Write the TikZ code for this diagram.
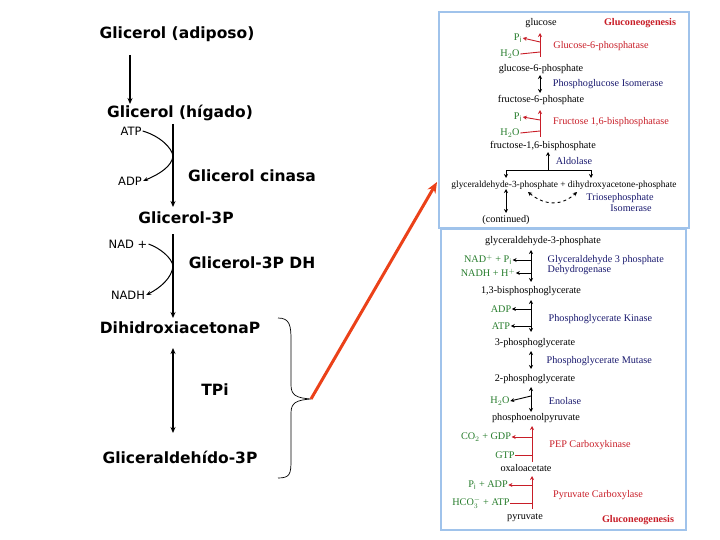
\documentclass[tikz,border=0pt]{standalone}
\usepackage{fontspec}
\setmainfont{DejaVu Sans}
\newfontfamily\serf{Liberation Serif}
\usetikzlibrary{arrows.meta,decorations.pathreplacing}
\definecolor{grn}{RGB}{40,125,45}
\definecolor{rd}{RGB}{200,30,40}
\definecolor{nv}{RGB}{25,25,110}
\definecolor{bx}{RGB}{160,195,235}
\definecolor{org}{RGB}{235,65,25}
\begin{document}
\begin{tikzpicture}[x=1pt,y=-1pt,
  big/.style={font=\bfseries\fontsize{15.5}{18}\selectfont,inner sep=1pt},
  sm/.style={font=\fontsize{11.5}{13}\selectfont,inner sep=1pt},
  rt/.style={font=\serf\fontsize{10.2}{11}\selectfont,inner sep=0.5pt},
  gr/.style={rt,text=grn},
  rr/.style={rt,text=rd},
  en/.style={rt,text=nv,align=left},
  la/.style={-{Stealth[length=6pt,width=5pt]},line width=1.1pt},
  lb/.style={{Stealth[length=6pt,width=5pt]}-{Stealth[length=6pt,width=5pt]},line width=1.1pt},
  ra/.style={-{Stealth[length=4pt,width=4pt]},line width=0.9pt},
  rb/.style={{Stealth[length=4pt,width=4pt]}-{Stealth[length=4pt,width=4pt]},line width=0.9pt}]
\useasboundingbox (0,0) rectangle (720,540);
% ---------- left ----------
\node[big] (a) at (177,34) {Glicerol (adiposo)};
\node[big] (b) at (180,113) {Glicerol (hígado)};
\node[big] (c) at (186,218) {Glicerol-3P};
\node[big] (d) at (180,328) {DihidroxiacetonaP};
\node[big] (e) at (180,457) {Gliceraldehído-3P};
\node[big] (tpi) at (215,390) {TPi};
\node[big] (gk) at (252,176) {Glicerol cinasa};
\node[big] (gdh) at (252,263) {Glicerol-3P DH};
\node[sm] (atp) at (131,131) {ATP};
\node[sm] (adp) at (130,181) {ADP};
\node[sm] (nad) at (128,244) {NAD +};
\node[sm] (nadh) at (128,295) {NADH};
\coordinate (a1) at (130,55); \coordinate (a2) at (130,104);
\draw[la] (a1) -- (a2);
\coordinate (b1) at (173,124); \coordinate (b2) at (173,207);
\draw[la] (b1) -- (b2);
\coordinate (c1) at (173,234); \coordinate (c2) at (173,318);
\draw[la] (c1) -- (c2);
\coordinate (d1) at (173,348); \coordinate (d2) at (173,433);
\draw[lb] (d1) -- (d2);
\draw[line width=1pt] (atp.east) .. controls (160,136) and (172,148) .. (173,156);
\draw[-{Stealth[length=5pt,width=4pt]},line width=1pt] (173,156) .. controls (172,166) and (160,174) .. (adp.east);
\draw[line width=1pt] (nad.east) .. controls (160,248) and (172,258) .. (173,266);
\draw[-{Stealth[length=5pt,width=4pt]},line width=1pt] (173,266) .. controls (172,278) and (160,288) .. (nadh.east);
% brace
\coordinate (br1) at (278,318); \coordinate (br2) at (278,478); \coordinate (tip) at (311,399);
\draw[line width=0.7pt] (br1) .. controls (290,318) and (291,326) .. (291,340) -- (291,385)
  .. controls (291,395) and (296,398) .. (tip) .. controls (296,400) and (291,403) .. (291,413)
  -- (291,460) .. controls (291,474) and (290,478) .. (br2);
\coordinate (oa) at (437,182);
\draw[org,line width=3pt,-{Stealth[length=11pt,width=9pt]}] (tip) -- (oa);
% ---------- right boxes ----------
\draw[bx,line width=2pt] (439,12) rectangle (689,228);
\draw[bx,line width=2pt] (441,229) rectangle (686,530);
% top panel
\node[rt] (g) at (541,23) {glucose};
\node[rt,text=rd,font=\serf\bfseries\fontsize{10.2}{11}\selectfont] (gn1) at (640,23) {Gluconeogenesis};
\node[gr] (pi1) at (518,38) {P$_\mathrm{i}$};
\node[gr] (w1) at (510,54) {H$_2$O};
\node[rr] (e1) at (601,46) {Glucose-6-phosphatase};
\node[rt] (g6p) at (541,69) {glucose-6-phosphate};
\node[en] (e2) at (608,84) {Phosphoglucose Isomerase};
\node[rt] (f6p) at (541,100) {fructose-6-phosphate};
\node[gr] (pi2) at (518,117) {P$_\mathrm{i}$};
\node[gr] (w2) at (510,133) {H$_2$O};
\node[rr] (e3) at (611,122) {Fructose 1,6-bisphosphatase};
\node[rt] (fbp) at (543,146) {fructose-1,6-bisphosphate};
\node[en] (e4) at (574,161) {Aldolase};
\node[rt,font=\serf\fontsize{9.4}{10}\selectfont] (gap) at (564,185) {glyceraldehyde-3-phosphate + dihydroxyacetone-phosphate};
\node[en] (e5) at (620,198) {Triosephosphate};
\node[en] (e5b) at (631,208) {Isomerase};
\node[rt] (cont) at (506,220) {(continued)};
\draw[rd,ra] (540,57) -- (540,33);
\draw[rd,ra] (540,42) -- (pi1.east);
\draw[rd,line width=0.9pt] (w1.east) -- (540,52);
\draw[rb] (540,75) -- (540,93);
\draw[rd,ra] (540,137) -- (540,110);
\draw[rd,ra] (540,120) -- (pi2.east);
\draw[rd,line width=0.9pt] (w2.east) -- (540,131);
\draw[ra] (548,170) -- (548,152);
\draw[ra] (548,170) -- (506,170) -- (506,178);
\draw[ra] (548,170) -- (591,170) -- (591,178);
\draw[rb,dashed] (528,192) .. controls (545,206) and (562,206) .. (577,192);
\draw[rb] (506,189) -- (506,213);
% bottom panel
\node[rt] (gap2) at (543,241) {glyceraldehyde-3-phosphate};
\node[gr] (nadp) at (488,260) {NAD$^+$ + P$_\mathrm{i}$};
\node[gr] (nadhp) at (488,273) {NADH + H$^+$};
\node[en,anchor=west] (e6) at (547,265) {Glyceraldehyde 3 phosphate\\[-1pt]Dehydrogenase};
\node[rt] (bpg) at (531,291) {1,3-bisphosphoglycerate};
\node[gr] (adp2) at (501,309) {ADP};
\node[gr] (atp2) at (501,326) {ATP};
\node[en,anchor=west] (e7) at (548,319) {Phosphoglycerate Kinase};
\node[rt] (pg3) at (535,343) {3-phosphoglycerate};
\node[en,anchor=west] (e8) at (546,361) {Phosphoglycerate Mutase};
\node[rt] (pg2) at (535,379) {2-phosphoglycerate};
\node[gr] (w3) at (500,401) {H$_2$O};
\node[en] (e9) at (565,401) {Enolase};
\node[rt] (pep) at (536,418) {phosphoenolpyruvate};
\node[gr] (co2) at (486,437) {CO$_2$ + GDP};
\node[gr] (gtp) at (505,455) {GTP};
\node[rr] (e10) at (590,445) {PEP Carboxykinase};
\node[rt] (oaa) at (526,468) {oxaloacetate};
\node[gr] (piadp) at (488,485) {P$_\mathrm{i}$ + ADP};
\node[gr] (hco) at (481,503) {HCO$_3^-$ + ATP};
\node[rr] (e11) at (598,495) {Pyruvate Carboxylase};
\node[rt] (pyr) at (525,518) {pyruvate};
\node[rt,text=rd,font=\serf\bfseries\fontsize{10.2}{11}\selectfont] (gn2) at (638,520) {Gluconeogenesis};
\draw[rb] (531,250) -- (531,282);
\draw[ra] (531,260) -- (nadp.east);
\draw[ra] (531,273) -- (nadhp.east);
\draw[rb] (531,300) -- (531,332);
\draw[ra] (531,309) -- (adp2.east);
\draw[ra] (531,326) -- (atp2.east);
\draw[rb] (531,351) -- (531,369);
\draw[rb] (531,387) -- (531,412);
\draw[ra] (531,396) -- (w3.east);
\draw[rd,ra] (532,462) -- (532,426);
\draw[rd,ra] (532,437) -- (co2.east);
\draw[rd,line width=0.9pt] (gtp.east) -- (532,455);
\draw[rd,ra] (532,509) -- (532,476);
\draw[rd,ra] (532,485) -- (piadp.east);
\draw[rd,line width=0.9pt] (hco.east) -- (532,503);
\end{tikzpicture}
\end{document}
